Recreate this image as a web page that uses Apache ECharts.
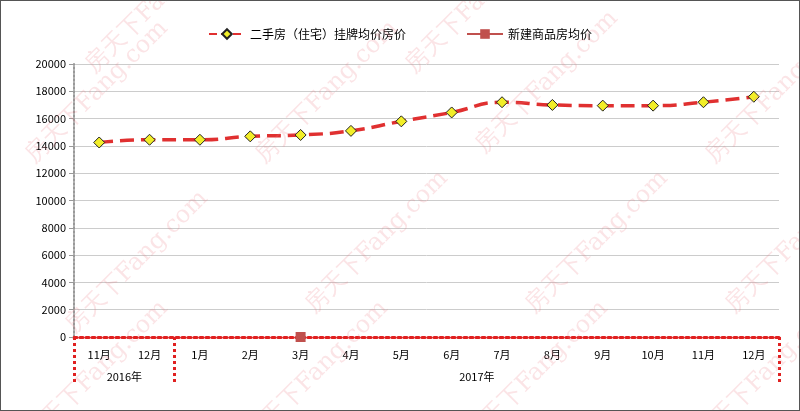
<!DOCTYPE html>
<html><head><meta charset="utf-8">
<script src="https://cdn.jsdelivr.net/npm/echarts@6/dist/echarts.min.js"></script>
<style>html,body{margin:0;padding:0;background:#fff}#c{width:798px;height:409px;border:1px solid #555}</style>
</head><body><div id="c"></div>
<script>
const categories=['11月','12月','1月','2月','3月','4月','5月','6月','7月','8月','9月','10月','11月','12月'];
const years=['2016年','2017年'];
const resale=[14250,14450,14450,14700,14800,15100,15800,16450,17200,17000,16950,16950,17200,17600];
const newBuild=[null,null,null,null,0,null,null,null,null,null,null,null,null,null];
const yTicks={min:0,max:20000,interval:2000};
const chart=echarts.init(document.getElementById('c'));
const wm=[];
const pos=[[20,150],[250,150],[470,140],[700,150],[60,320],[300,300],[520,300],[720,300],[20,430],[240,430],[460,430],[690,430],[80,60],[400,60]];
pos.forEach(p=>wm.push({type:'text',x:p[0],y:p[1],rotation:Math.PI/4,style:{text:'房天下Fang.com',fill:'rgba(235,120,130,0.2)',font:'24px "DejaVu Serif"'},z:100,silent:true}));
chart.setOption({
 animation:false,
 textStyle:{fontFamily:'"Noto Sans CJK SC", sans-serif'},
 legend:{top:22,left:'center',itemGap:60,itemWidth:36,itemHeight:12,textStyle:{fontSize:12,color:'#000'},
  data:['二手房（住宅）挂牌均价房价','新建商品房均价']},
 grid:{left:73,right:20,top:63,bottom:73},
 xAxis:[{type:'category',data:categories,boundaryGap:true,
   axisLine:{lineStyle:{color:'#e02020',type:'dotted',width:3}},axisTick:{show:false},
   axisLabel:{color:'#000',fontSize:11,margin:12}},
  {type:'value',min:0,max:14,position:'bottom',
   axisLine:{show:false},splitLine:{show:false},
   axisTick:{show:true,customValues:[0,2,14],length:48,inside:false,lineStyle:{color:'#e02020',type:'dotted',width:3}},
   axisLabel:{customValues:[1,8],formatter:v=>v===1?years[0]:years[1],color:'#000',fontSize:11,margin:34}}],
 yAxis:{type:'value',...yTicks,axisLine:{show:true,lineStyle:{color:'#999',type:'dotted',width:2}},
  axisLabel:{color:'#000',fontSize:11,formatter:v=>String(v)},splitLine:{lineStyle:{color:'#ccc'}}},
 series:[
  {name:'二手房（住宅）挂牌均价房价',type:'line',smooth:true,data:resale,symbol:'diamond',symbolSize:11,
   lineStyle:{color:'#e03030',width:3.5,type:'dashed'},itemStyle:{color:'#f2ee28',borderColor:'#222',borderWidth:1}},
  {name:'新建商品房均价',type:'line',data:newBuild,symbol:'rect',symbolSize:10,
   lineStyle:{color:'#c0504d',width:3},itemStyle:{color:'#c0504d'}}
 ],
 graphic:wm
});
</script></body></html>
